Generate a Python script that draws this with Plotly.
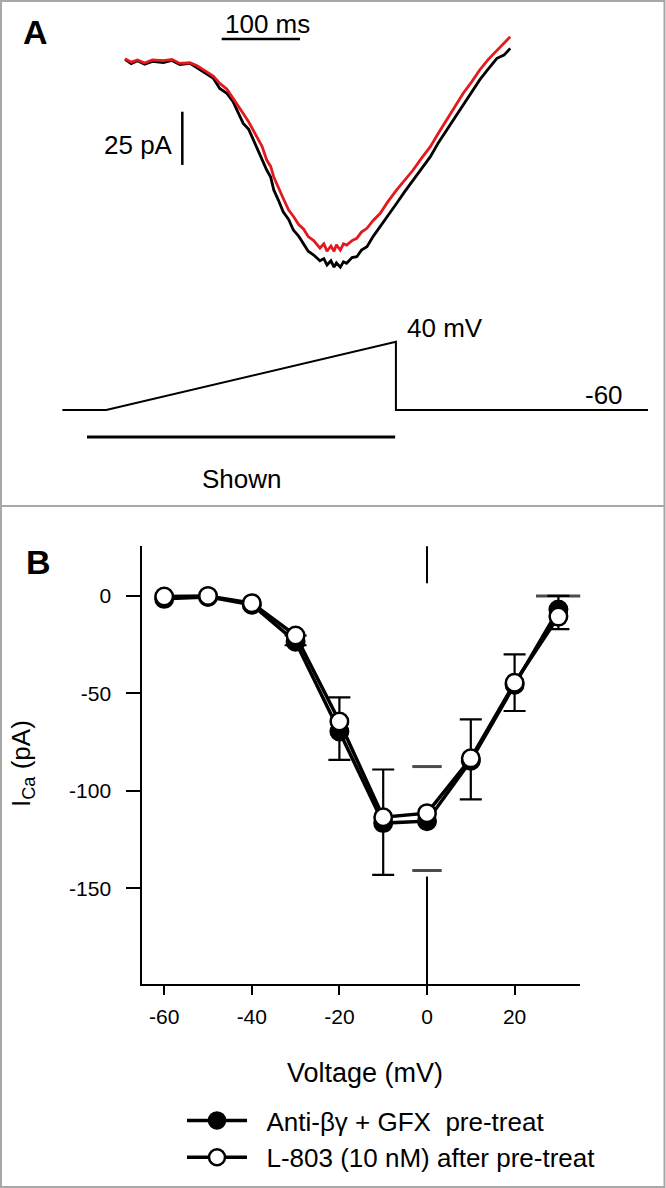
import plotly.graph_objects as go

W, H = 666, 1188
FONT = "Liberation Sans, Arial, Helvetica, sans-serif"

# ---------------- Panel A data (time in ms, current in pA, voltage in mV) ----------------
trace_time = [0, 8, 16, 25, 35, 49, 60, 70, 83, 92, 104, 113, 121, 130, 138, 145, 151, 158,
              164, 170, 175, 181, 186, 190, 196, 202, 209, 215, 222, 228, 234, 241, 249, 254,
              258, 263, 267, 270, 275, 279, 283, 290, 296, 302, 309, 317, 326, 336, 347, 357,
              368, 379, 390, 400, 411, 421, 432, 443, 453, 464, 475, 484, 492]
current_control = [-0.5, -2.5, -1.2, -2.8, -1.5, -2.0, -1.0, -3.0, -2.4, -4.5, -7.1, -9.5, -14.2,
                   -16.5, -20.5, -26.0, -30.7, -33.5, -38.5, -44.0, -48.0, -52.7, -56.0, -62.1,
                   -67.0, -72.4, -76.0, -81.0, -84.0, -87.3, -91.0, -92.8, -95.5, -94.5, -97.5,
                   -95.5, -98.5, -96.5, -98.5, -96.0, -96.7, -94.0, -93.6, -90.5, -88.9, -84.0,
                   -79.4, -74.5, -68.4, -63.0, -57.4, -52.0, -46.4, -40.0, -33.8, -28.5, -22.0,
                   -16.0, -10.2, -5.0, 0.0, 1.5, 4.7]
current_l803 = [-0.2, -1.8, -0.8, -2.2, -0.8, -1.1, -0.5, -2.4, -2.1, -3.5, -6.3, -8.5, -11.8,
                -14.5, -18.9, -22.5, -26.0, -30.0, -34.0, -38.0, -41.5, -48.0, -51.0, -56.0,
                -60.6, -66.0, -71.6, -74.5, -78.5, -80.5, -84.1, -86.0, -89.5, -87.5, -91.0,
                -88.5, -91.0, -88.0, -90.5, -87.5, -88.1, -86.0, -84.9, -82.0, -80.2, -76.5,
                -73.1, -67.5, -62.1, -57.5, -52.7, -47.0, -41.7, -35.5, -29.1, -23.0, -16.5,
                -11.0, -5.5, -0.5, 3.9, 7.0, 10.2]
protocol_time = [-80, -24, 346, 346, 668]
protocol_mv = [-60, -60, 40, -60, -60]
shown_time = [-48.5, 345]

# ---------------- Panel B data ----------------
voltage = [-60, -50, -40, -30, -20, -10, 0, 10, 20, 30]
ica_pretreat = [-1.5, -0.5, -4.5, -23.5, -69.5, -116.5, -115.5, -84.5, -45.5, -7.0]
ica_l803 = [-0.3, 0.0, -3.7, -20.3, -64.4, -113.5, -111.4, -83.3, -44.5, -10.6]
err_top = [None, None, None, None, -52.0, -89.0, None, -63.3, -30.0, 0.0]
err_bottom = [None, None, None, -25.3, -84.1, -143.0, None, -104.3, -59.0, -17.0]
# stray marks at 0 mV (caps without bar, bar pieces) and wide cap at 30 mV
stray_cap_v = [0, 0, 30]
stray_cap_i = [-87.5, -140.8, 0.0]
zero_stubs = [25.5, 6.5, None, -143.9, -199.0]

x_ticks = [-60, -40, -20, 0, 20]
y_ticks = [0, -50, -100, -150]

NB = "\u00a0"
names = [NB * 2 + "Anti-\u03b2\u03b3 + GFX " + NB + "pre-treat",
         NB * 2 + "L-803 (10 nM) after pre-treat"]


def PX(x):
    return x / W


def PY(y):
    return 1 - y / H


# error bars only where they exist
eb_idx = [k for k in range(len(voltage)) if err_top[k] is not None or err_bottom[k] is not None]
eb_x = [voltage[k] for k in eb_idx]
eb_y = [ica_l803[k] for k in eb_idx]
eb_plus = [(err_top[k] - ica_l803[k]) if err_top[k] is not None else 0 for k in eb_idx]
eb_minus = [(ica_l803[k] - err_bottom[k]) if err_bottom[k] is not None else 0 for k in eb_idx]

fig = go.Figure()

# Panel A
fig.add_trace(go.Scatter(x=trace_time, y=current_control, xaxis="x2", yaxis="y2", mode="lines",
                         line=dict(color="black", width=2.8), showlegend=False, hoverinfo="skip"))
fig.add_trace(go.Scatter(x=trace_time, y=current_l803, xaxis="x2", yaxis="y2", mode="lines",
                         line=dict(color="#e3191f", width=2.8), showlegend=False, hoverinfo="skip"))
fig.add_trace(go.Scatter(x=protocol_time, y=protocol_mv, xaxis="x2", yaxis="y3", mode="lines",
                         line=dict(color="black", width=2), showlegend=False, hoverinfo="skip"))

# Panel B stray marks
fig.add_trace(go.Scatter(x=[0] * len(zero_stubs), y=zero_stubs, mode="lines", connectgaps=False,
                         line=dict(color="black", width=2), showlegend=False, hoverinfo="skip"))
fig.add_trace(go.Scatter(x=stray_cap_v, y=stray_cap_i, mode="markers",
                         marker=dict(symbol="line-ew", size=[21, 21, 32], color="black",
                                     line=dict(color="black", width=3)),
                         showlegend=False, hoverinfo="skip"))
# error bars (drawn under the markers)
fig.add_trace(go.Scatter(x=eb_x, y=eb_y, mode="markers",
                         marker=dict(size=1, color="rgba(0,0,0,0)"),
                         error_y=dict(type="data", array=eb_plus, arrayminus=eb_minus,
                                      symmetric=False, color="black", thickness=2.2, width=11),
                         showlegend=False, hoverinfo="skip"))

fig.add_trace(go.Scatter(x=voltage, y=ica_pretreat, mode="lines+markers", name=names[0],
                         line=dict(color="black", width=3.5),
                         marker=dict(color="black", size=17.5, line=dict(color="black", width=2.5))))
fig.add_trace(go.Scatter(x=voltage, y=ica_l803, mode="lines+markers", name=names[1],
                         line=dict(color="black", width=3.5),
                         marker=dict(color="white", size=17.5, line=dict(color="black", width=2.5))))

# Calibration of panel A (pixels)
ms_per_px = 1 / 0.783
pa_per_px = 1 / 2.12
mv_per_px = 100 / 68.3
t0_px, i0_py, vneg60_py = 125.0, 58.3, 410.0
panelA_bottom = 506.0

x2_range = [(0 - t0_px) * ms_per_px, (W - t0_px) * ms_per_px]
y2_range = [-(panelA_bottom - i0_py) * pa_per_px, i0_py * pa_per_px]
y3_range = [-60 - (panelA_bottom - vneg60_py) * mv_per_px, -60 + vneg60_py * mv_per_px]

axis_common = dict(showgrid=False, zeroline=False, showline=True, linecolor="black", linewidth=2,
                   ticks="outside", tickcolor="black", tickwidth=2,
                   tickfont=dict(family=FONT, size=21, color="black"))

fig.update_layout(
    width=W, height=H, autosize=False,
    margin=dict(l=0, r=0, t=0, b=0),
    paper_bgcolor="white", plot_bgcolor="white",
    font=dict(family=FONT, color="black"),
    xaxis=dict(domain=[PX(142.3), PX(580.3)], range=[-65, 35], anchor="y",
               tickvals=x_ticks, ticktext=[str(v) for v in x_ticks],
               ticklen=9, ticklabelstandoff=4, **axis_common),
    yaxis=dict(domain=[PY(984), PY(546)], range=[-199, 25.6], anchor="x",
               tickvals=y_ticks, ticktext=[str(v) for v in y_ticks],
               ticklen=14, ticklabelstandoff=11, **axis_common),
    xaxis2=dict(domain=[0, 1], range=x2_range, visible=False, anchor="y2"),
    yaxis2=dict(domain=[PY(panelA_bottom), 1], range=y2_range, visible=False, anchor="x2"),
    yaxis3=dict(overlaying="y2", range=y3_range, visible=False, anchor="x2"),
    legend=dict(x=PX(182), y=PY(1097), xanchor="left", yanchor="top",
                font=dict(family=FONT, size=26, color="black"), itemwidth=60,
                bgcolor="rgba(0,0,0,0)", borderwidth=0, tracegroupgap=0),
    showlegend=True,
)

shapes = [
    dict(type="rect", xref="paper", yref="paper", x0=PX(1), x1=PX(664.5), y0=PY(1187), y1=PY(1),
         line=dict(color="#a8a8a8", width=2)),
    dict(type="line", xref="paper", yref="paper", x0=PX(1), x1=PX(664.5), y0=PY(506), y1=PY(506),
         line=dict(color="#a8a8a8", width=2)),
    dict(type="line", xref="x2", yref="y2", x0=123.5, x1=223.5, y0=9.1, y1=9.1,
         line=dict(color="black", width=2.5)),
    dict(type="line", xref="x2", yref="y2", x0=73.2, x1=73.2, y0=-25.2, y1=-50.3,
         line=dict(color="black", width=2.5)),
    dict(type="line", xref="x2", yref="paper", x0=shown_time[0], x1=shown_time[1],
         y0=PY(437), y1=PY(437), line=dict(color="black", width=3)),
]
fig.update_layout(shapes=shapes)


def ann(text, x, y, size, bold=False, angle=0):
    return dict(text=("<b>%s</b>" % text) if bold else text, x=PX(x), y=PY(y), xref="paper",
                yref="paper", xanchor="center", yanchor="middle", showarrow=False,
                textangle=angle, font=dict(family=FONT, size=size, color="black"))


fig.update_layout(annotations=[
    ann("A", 35.3, 32, 34, bold=True),
    ann("B", 38.8, 562, 34, bold=True),
    ann("100 ms", 267, 23.5, 26),
    ann("25 pA", 138.7, 145, 26),
    ann("40 mV", 444.7, 327.5, 26),
    ann("-60", 603.8, 395, 26),
    ann("Shown", 242, 478.5, 26),
    ann("I<sub>Ca</sub> (pA)", 22, 764, 26, angle=-90),
    ann("Voltage (mV)", 364.7, 1073, 27),
])

fig.write_html("out.html", config={"displayModeBar": False},
               post_script="document.body.style.margin='0px';")
